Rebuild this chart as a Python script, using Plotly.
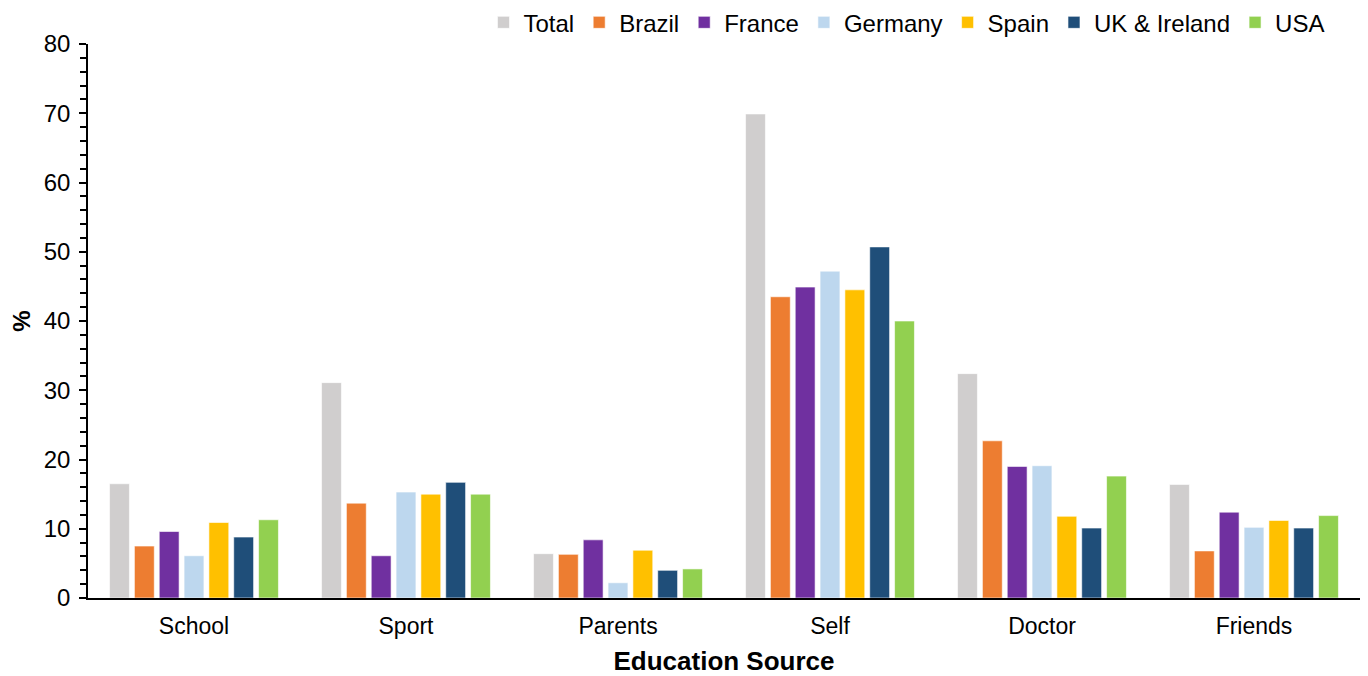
import plotly.graph_objects as go

categories = ["School", "Sport", "Parents", "Self", "Doctor", "Friends"]
series_names = ["Total", "Brazil", "France", "Germany", "Spain", "UK & Ireland", "USA"]
total = [16.5, 31.1, 6.4, 69.9, 32.4, 16.4]
brazil = [7.5, 13.7, 6.3, 43.5, 22.7, 6.8]
france = [9.6, 6.1, 8.4, 44.9, 19.0, 12.4]
germany = [6.1, 15.3, 2.2, 47.2, 19.1, 10.2]
spain = [10.9, 15.0, 6.9, 44.5, 11.8, 11.2]
uk_ireland = [8.8, 16.7, 4.0, 50.7, 10.1, 10.1]
usa = [11.3, 15.0, 4.2, 40.0, 17.6, 11.9]
colors = ["#D0CECE", "#ED7D31", "#7030A0", "#BDD7EE", "#FFC000", "#1F4E79", "#92D050"]

values = [total, brazil, france, germany, spain, uk_ireland, usa]

font_family = "Liberation Sans, Arial, sans-serif"

fig = go.Figure()
for name, vals, col in zip(series_names, values, colors):
    fig.add_trace(go.Bar(
        x=categories, y=vals, name=name,
        marker=dict(color=col, line=dict(color="white", width=0.6)),
    ))

fig.update_layout(
    barmode="group",
    bargap=0.18,
    bargroupgap=0.2,
    width=1360, height=668,
    margin=dict(l=80, r=8, t=36, b=78, autoexpand=False),
    paper_bgcolor="white",
    plot_bgcolor="white",
    font=dict(family=font_family, size=24, color="black"),
    legend=dict(
        orientation="h",
        xref="paper", yref="paper",
        x=0.976, xanchor="right",
        y=1.079, yanchor="top",
        font=dict(size=24),
        itemwidth=30,
        traceorder="normal",
        bgcolor="rgba(0,0,0,0)",
    ),
    xaxis=dict(
        showline=True, linecolor="black", linewidth=2,
        ticks="", showgrid=False,
        ticklabelstandoff=6,
        title=dict(text="<b>Education Source</b>", font=dict(size=26), standoff=16),
        tickfont=dict(size=23),
    ),
    yaxis=dict(
        range=[0, 80], dtick=10,
        showline=True, linecolor="black", linewidth=1.5,
        ticks="outside", ticklen=7, tickwidth=1.5, tickcolor="black",
        ticklabelstandoff=4,
        minor=dict(dtick=2, ticks="outside", ticklen=6, tickwidth=1.5, tickcolor="black", showgrid=False),
        showgrid=False, zeroline=False,
        title=dict(text="<b>%</b>", font=dict(size=24), standoff=8),
        tickfont=dict(size=24),
    ),
)

fig.write_html("out.html")
